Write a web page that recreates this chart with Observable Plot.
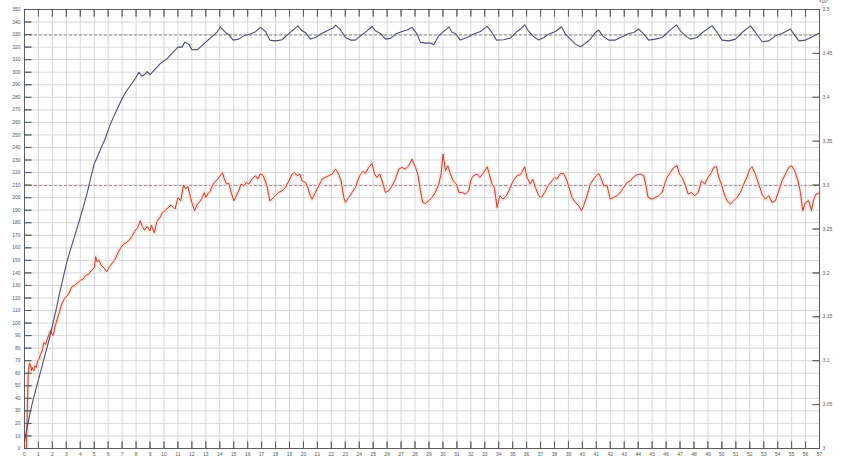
<!DOCTYPE html>
<html>
<head>
<meta charset="utf-8">
<script src="https://cdn.jsdelivr.net/npm/d3@7"></script>
<script src="https://cdn.jsdelivr.net/npm/@observablehq/plot@0.6"></script>
<style>
  html, body { margin: 0; padding: 0; background: #fff; }
</style>
</head>
<body>
<div id="chart"></div>
<script>
const xTicks = d3.range(0, 58);
const yTicks = d3.range(0, 351, 10);
const rightLabels = ["3", "3.05", "3.1", "3.15", "3.2", "3.25", "3.3", "3.35", "3.4", "3.45", "3.5"];
const rightTickPos = d3.range(0, 351, 35);
const exponentLabel = ["×10⁴"];
const refBlue = 329.6;
const refRed = 209.6;

const blueX = [0, 0.07, 0.25, 0.43, 0.6, 0.79, 1.0, 1.27, 1.5, 1.75, 2.0, 2.25, 2.5, 2.75, 3.0, 3.25, 3.5, 3.75, 4.0, 4.25, 4.5, 4.75, 5.0, 5.25, 5.5, 5.75, 6.0, 6.25, 6.5, 6.75, 7.0, 7.25, 7.5, 7.75, 8.0, 8.2, 8.4, 8.6, 8.8, 9.0, 9.25, 9.5, 9.75, 10.0, 10.25, 10.5, 10.75, 11.0, 11.3, 11.5, 11.8, 12.0, 12.4, 12.7, 13.0, 13.5, 13.8, 14.05,
  14.41, 14.65, 14.96, 15.36, 15.72, 16.2, 16.56, 16.92, 17.28, 17.59, 18.0, 18.47, 18.83, 19.19, 19.6, 19.9, 20.14, 20.5, 20.86, 21.22, 21.7, 22.18, 22.3, 22.65, 23.01, 23.37, 23.73, 24.09, 24.56, 24.92, 25.16, 25.52, 25.88, 26.24, 26.6, 27.07, 27.43, 27.79, 28.15, 28.39, 28.75, 29.1, 29.34, 29.7, 30.06, 30.42, 30.66, 30.9, 31.25, 31.73, 32.21, 32.69, 33.17, 33.52, 33.84, 34.36, 34.84, 35.32, 35.56, 35.87, 36.15, 36.51, 36.87, 37.23, 37.59, 38.07, 38.5, 38.78, 39.14, 39.5, 39.86, 40.22, 40.57, 40.93, 41.17, 41.46, 41.89, 42.37, 42.85, 43.32, 43.68, 44.04, 44.4, 44.76, 45.24, 45.71, 46.19, 46.74, 47.03, 47.39, 47.75, 48.22, 48.7, 49.3, 49.66, 50.02, 50.5, 50.98, 51.45, 52.05, 52.41, 52.89, 53.37, 53.85, 54.32, 54.92, 55.16, 55.52, 56.0, 56.48, 56.91, 57];
const blueY = [5, 10, 20, 30, 38, 46, 55, 66, 76, 86, 98, 110, 123, 135, 147, 157, 166, 175, 184, 194, 204, 216, 227, 233, 240, 246, 254, 261, 267, 273, 279, 284, 288, 292, 296, 300, 297, 298, 300.5, 298, 301, 304, 307, 309, 311, 314, 317, 320, 320, 324, 322, 318, 318, 321, 324, 329, 332, 336,
  331.7, 329.9, 325.6, 326.4, 329, 330.4, 332.3, 335.7, 332.5, 325.6, 325, 325.9, 329.6, 333, 337, 333, 331.7, 326.4, 327.7, 330.4, 333, 335.7, 337.6, 333.9, 327.7, 325.6, 325.6, 329, 333, 336.5, 333, 330.9, 326.4, 327, 330.4, 332.5, 333.6, 335.7, 330.4, 323.8, 323.2, 323.2, 321.9, 329, 332.5, 336.2, 331.7, 330.9, 325.6, 327.7, 330.4, 332.5, 336.5, 331.7, 325.6, 325.9, 327.2, 332.5, 334.4, 337.8, 332.5, 328.3, 325.6, 327.7, 330.4, 332.5, 336.2, 330.4, 326.4, 322.4, 320.3, 323, 326.4, 331.7, 333.6, 329, 325.6, 325.6, 328.3, 330.9, 331.7, 334.4, 330.4, 325.6, 326.4, 327.7, 332.5, 337.8, 333, 329, 326.4, 327.7, 332.5, 337, 331.7, 325.6, 325, 326.4, 331.7, 337, 331.7, 324.3, 325, 329, 330.9, 334.4, 330.4, 325, 325.6, 328.3, 330.9, 331];

const redX = [0.14, 0.2, 0.26, 0.35, 0.43, 0.5, 0.55, 0.67, 0.75, 0.84, 0.95, 1.03, 1.15, 1.27, 1.39, 1.51, 1.63, 1.75, 1.87, 2.03, 2.1, 2.18, 2.34, 2.46, 2.58, 2.7, 2.85, 3.0, 3.2, 3.4, 3.6, 3.8, 4.0, 4.2, 4.4, 4.6, 4.8, 5.0, 5.1, 5.2, 5.35, 5.5, 5.7, 5.9, 6.1, 6.3, 6.5, 6.7, 6.9, 7.1, 7.3, 7.5, 7.7, 7.9, 8.1, 8.3, 8.45, 8.6, 8.8, 9.0, 9.1, 9.3, 9.5, 9.7, 9.9, 10.1, 10.3, 10.5, 10.7, 10.8, 11.0, 11.2, 11.4, 11.55, 11.7, 11.85, 12.0, 12.2, 12.35, 12.5, 12.7, 12.9, 13.0, 13.15, 13.3, 13.45, 13.6, 13.8, 14.0, 14.2,
  14.29, 14.48, 14.65, 14.82, 15.01, 15.13, 15.36, 15.53, 15.72, 15.91, 16.08, 16.32, 16.56, 16.73, 16.92, 17.11, 17.35, 17.59, 17.75, 17.99, 18.23, 18.47, 18.71, 18.95, 19.19, 19.35, 19.55, 19.74, 19.9, 20.14, 20.31, 20.5, 20.62, 20.86, 21.1, 21.34, 21.58, 21.82, 22.05, 22.29, 22.53, 22.7, 22.89, 23.01, 23.25, 23.49, 23.73, 23.89, 24.09, 24.28, 24.44, 24.68, 24.92, 25.09, 25.28, 25.47, 25.64, 25.88, 26.12, 26.36, 26.6, 26.84, 27.07, 27.31, 27.55, 27.79, 28.03, 28.2, 28.39, 28.55, 28.75, 28.98, 29.22, 29.46, 29.7, 29.87, 30.01, 30.18, 30.35, 30.54, 30.73, 30.97, 31.14, 31.37, 31.61, 31.85, 32.02, 32.21, 32.45, 32.64, 32.93, 33.17, 33.36, 33.52, 33.69, 33.88, 34.08, 34.31, 34.55, 34.79, 35.03, 35.32, 35.56, 35.87, 36.03, 36.27, 36.44, 36.63, 36.87, 37.06, 37.3, 37.54, 37.82, 38.02, 38.18, 38.42, 38.66, 38.9, 39.07, 39.26, 39.5, 39.74, 39.93, 40.09, 40.33, 40.57, 40.81, 41.0, 41.17, 41.36, 41.53, 41.77, 42.0, 42.24, 42.48, 42.72, 42.96, 43.2, 43.44, 43.68, 43.92, 44.16, 44.4, 44.56, 44.71, 45.0, 45.23, 45.47, 45.71, 45.9, 46.07, 46.31, 46.55, 46.79, 46.96, 47.15, 47.39, 47.58, 47.82, 48.06, 48.3, 48.54, 48.78, 49.01, 49.25, 49.42, 49.61, 49.78, 49.97, 50.13, 50.37, 50.61, 50.85, 51.09, 51.33, 51.57, 51.81, 52.0, 52.16, 52.4, 52.64, 52.88, 53.12, 53.36, 53.6, 53.84, 54.08, 54.32, 54.56, 54.79, 54.99, 55.22, 55.46, 55.63, 55.8, 55.99, 56.23, 56.42, 56.59, 56.75, 56.94, 57];
const redY = [0, 30, 58, 68, 67, 62, 64.6, 62, 66, 64.6, 70, 71, 75, 78, 84.5, 83, 87, 91, 94, 90, 92, 97, 103, 107, 112, 116, 119, 121, 124, 129, 130, 132, 134, 135, 138, 139, 142, 144, 153, 149, 150, 146, 144, 141, 145, 148, 151, 156, 160, 163, 164, 166, 169, 173, 176, 181.5, 177, 174, 177, 173.5, 178, 172, 181, 184, 188, 190, 192, 194, 192, 191, 200, 197.5, 210, 207, 209, 203, 196, 189.5, 194, 196, 199, 204, 200, 203, 205, 209, 212, 214, 217, 220,
  216.1, 210.8, 211.3, 204.2, 197.5, 200.2, 205.5, 210.8, 209.5, 212.1, 210.8, 214.8, 217.5, 214.8, 219.3, 217.5, 210.8, 197.5, 198.8, 201.5, 204.2, 205.5, 208.1, 213.4, 218.8, 220.1, 217.5, 218.8, 213.4, 212.1, 208.1, 201.5, 198.8, 204.2, 209.5, 214.8, 216.1, 217.5, 218.8, 222.8, 218.8, 213.4, 200.2, 196.2, 200.2, 204.2, 208.1, 213.4, 218.8, 220.9, 219.3, 224.1, 227.3, 218.8, 216.1, 218.8, 213.4, 204.2, 205.5, 209.5, 214.8, 222.8, 224.1, 222.8, 225.4, 230.7, 224.1, 218.8, 205.5, 196.2, 195.4, 197.5, 200.2, 204.2, 210.8, 218.8, 234.7, 221.5, 225.4, 218.8, 213.4, 210.8, 204.2, 204.2, 202.8, 205.5, 214.8, 217.5, 218.8, 216.1, 220.1, 224.6, 217.5, 210.8, 208.1, 192.2, 201.5, 198.8, 201.5, 206.9, 213.4, 217.5, 218.3, 224.6, 216.1, 210.8, 214.8, 208.1, 201.5, 200.2, 204.2, 209.5, 213.4, 216.1, 214.8, 219.3, 219.3, 213.4, 206.9, 200.2, 196.2, 193.5, 189.6, 193.5, 201.5, 210.8, 214.8, 217.5, 219.3, 214.8, 209.5, 209.5, 198.8, 200.2, 201.5, 204.2, 208.1, 212.1, 213.4, 216.6, 218.3, 218.8, 217.5, 209.5, 200.2, 198.8, 200.2, 201.5, 204.2, 210.8, 216.1, 220.1, 224.1, 225.4, 218.8, 216.1, 209.5, 202.8, 204.2, 201.5, 204.2, 213.4, 210.8, 216.1, 220.1, 224.1, 224.6, 216.1, 210.8, 204.2, 197.5, 194.9, 197.5, 200.2, 204.2, 210.8, 216.6, 222.8, 224.6, 218.8, 210.8, 202.8, 198.8, 201.5, 196.2, 197.5, 205.5, 213.4, 218.8, 224.1, 225.4, 221.5, 213.4, 204.2, 189.6, 196.2, 197.5, 189.6, 198.8, 202.8, 203.5, 204];

const blue = blueX.map((x, i) => ({x, y: blueY[i]}));
const red = redX.map((x, i) => ({x, y: redY[i]}));

const tickStyle = {length: 7, anchor: "start", shape: "spike", r: 0, stroke: "#555", fill: "none", strokeWidth: 0.8};

const chart = Plot.plot({
  width: 845,
  height: 468,
  marginLeft: 24,
  marginRight: 26,
  marginTop: 9,
  marginBottom: 20,
  x: {domain: [0, 57]},
  y: {domain: [0, 350]},
  style: {fontFamily: "'Liberation Sans', Arial, sans-serif", fontSize: "5px", color: "#555", background: "#fff"},
  marks: [
    Plot.gridX(xTicks, {stroke: "#d2d2d2", strokeOpacity: 1, strokeWidth: 0.9}),
    Plot.gridY(yTicks, {stroke: "#d2d2d2", strokeOpacity: 1, strokeWidth: 0.9}),
    Plot.ruleY([refBlue], {stroke: "#8f8f8f", strokeDasharray: "3,2", strokeWidth: 1}),
    Plot.ruleY([refRed], {stroke: "#a08a8a", strokeDasharray: "3,2", strokeWidth: 1}),
    Plot.line(red, {x: "x", y: "y", stroke: "#f6e2d8", strokeWidth: 4, strokeOpacity: 0.85}),
    Plot.line(red, {x: "x", y: "y", stroke: "#c0291b", strokeWidth: 0.9}),
    Plot.line(blue, {x: "x", y: "y", stroke: "#4a4e74", strokeWidth: 1.1}),
    Plot.frame({stroke: "#444", strokeWidth: 0.8}),
    Plot.vector(xTicks, {x: d => d, frameAnchor: "bottom", rotate: 0, ...tickStyle}),
    Plot.vector(xTicks, {x: d => d, frameAnchor: "top", rotate: 180, ...tickStyle}),
    Plot.vector(yTicks, {y: d => d, frameAnchor: "left", rotate: 90, ...tickStyle}),
    Plot.vector(rightTickPos, {y: d => d, frameAnchor: "right", rotate: -90, ...tickStyle}),
    Plot.axisX(xTicks, {anchor: "bottom", tickSize: 0, tickPadding: 4, label: null, tickFormat: d => String(d)}),
    Plot.axisY(yTicks, {anchor: "left", tickSize: 0, tickPadding: 4, label: null, tickFormat: d => String(d)}),
    Plot.axisY(rightTickPos, {anchor: "right", tickSize: 0, tickPadding: 3, label: null, tickFormat: d => rightLabels[Math.round(d / 35)]}),
    Plot.text(exponentLabel, {text: d => d, frameAnchor: "top-right", dx: 9, dy: -6.5, fontSize: 4.5, fill: "#555", lineAnchor: "bottom"})
  ]
});
document.getElementById("chart").appendChild(chart);
</script>
</body>
</html>
